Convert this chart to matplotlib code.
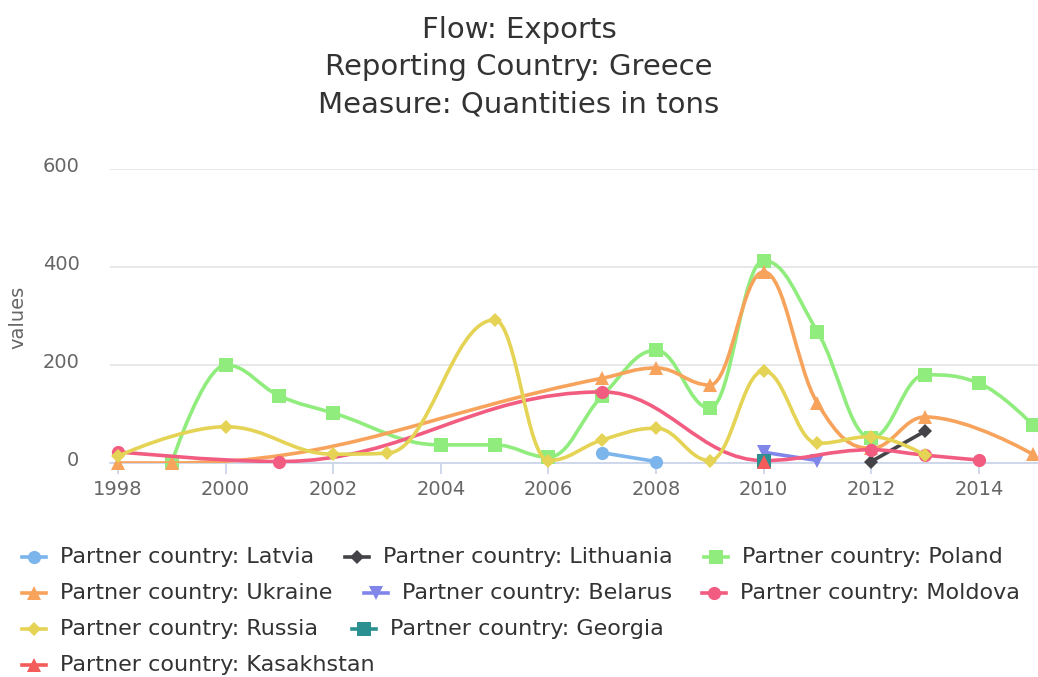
import numpy as np
import matplotlib
matplotlib.use("Agg")
import matplotlib.pyplot as plt
from matplotlib.path import Path
from matplotlib.patches import PathPatch
from matplotlib.lines import Line2D
from matplotlib.transforms import ScaledTranslation

# --- datos ---
title_lines = ["Flow: Exports", "Reporting Country: Greece", "Measure: Quantities in tons"]
y_label = "values"

latvia_years = [2007, 2008]
latvia_vals = [21, 3]
lithuania_years = [2012, 2013]
lithuania_vals = [3, 65]
poland_years = [1999, 2000, 2001, 2002, 2004, 2005, 2006, 2007, 2008, 2009, 2010, 2011, 2012, 2013, 2014, 2015]
poland_vals = [2, 200, 137, 102, 37, 37, 12, 137, 230, 112, 413, 268, 51, 180, 163, 78]
ukraine_years = [1998, 1999, 2007, 2008, 2009, 2010, 2011, 2012, 2013, 2015]
ukraine_vals = [0, 0, 173, 194, 159, 390, 122, 30, 94, 18]
belarus_years = [2010, 2011]
belarus_vals = [22, 5]
moldova_years = [1998, 2001, 2007, 2010, 2012, 2013, 2014]
moldova_vals = [23, 3, 145, 5, 27, 16, 6]
russia_years = [1998, 2000, 2002, 2003, 2005, 2006, 2007, 2008, 2009, 2010, 2011, 2012, 2013]
russia_vals = [14, 74, 18, 20, 292, 5, 47, 71, 5, 188, 40, 54, 16]
georgia_years = [2010]
georgia_vals = [5]
kazakhstan_years = [2010]
kazakhstan_vals = [3]

series = [
    ("Partner country: Latvia", latvia_years, latvia_vals, "#7cb5ec", "o", 9.5),
    ("Partner country: Lithuania", lithuania_years, lithuania_vals, "#434348", "D", 7),
    ("Partner country: Poland", poland_years, poland_vals, "#90ed7d", "s", 9.5),
    ("Partner country: Ukraine", ukraine_years, ukraine_vals, "#f7a35c", "^", 10),
    ("Partner country: Belarus", belarus_years, belarus_vals, "#8085e9", "v", 10),
    ("Partner country: Moldova", moldova_years, moldova_vals, "#f15c80", "o", 9.5),
    ("Partner country: Russia", russia_years, russia_vals, "#e4d354", "D", 7),
    ("Partner country: Georgia", georgia_years, georgia_vals, "#2b908f", "s", 9.5),
    ("Partner country: Kasakhstan", kazakhstan_years, kazakhstan_vals, "#f45b5b", "^", 10),
]


# --- spline tipo Highcharts ---
def hc_spline(xs, ys, smoothing=1.5):
    n = len(xs)
    lc = [(x, y) for x, y in zip(xs, ys)]
    rc = [(x, y) for x, y in zip(xs, ys)]
    d = smoothing + 1
    for i in range(1, n - 1):
        px, py = xs[i], ys[i]
        lx, ly = xs[i - 1], ys[i - 1]
        nx, ny = xs[i + 1], ys[i + 1]
        lcx = (smoothing * px + lx) / d
        lcy = (smoothing * py + ly) / d
        rcx = (smoothing * px + nx) / d
        rcy = (smoothing * py + ny) / d
        corr = 0
        if rcx != lcx:
            corr = (rcy - lcy) * (rcx - px) / (rcx - lcx) + py - rcy
        lcy += corr
        rcy += corr
        if lcy > ly and lcy > py:
            lcy = max(ly, py)
            rcy = 2 * py - lcy
        elif lcy < ly and lcy < py:
            lcy = min(ly, py)
            rcy = 2 * py - lcy
        if rcy > ny and rcy > py:
            rcy = max(ny, py)
            lcy = 2 * py - rcy
        elif rcy < ny and rcy < py:
            rcy = min(ny, py)
            lcy = 2 * py - rcy
        lc[i] = (lcx, lcy)
        rc[i] = (rcx, rcy)
    verts = [(xs[0], ys[0])]
    codes = [Path.MOVETO]
    for i in range(1, n):
        verts += [rc[i - 1], lc[i], (xs[i], ys[i])]
        codes += [Path.CURVE4] * 3
    return Path(verts, codes)


W, H = 1038, 677
fig = plt.figure(figsize=(W / 100, H / 100), dpi=100)
ax = fig.add_axes([110 / W, 1 - 463 / H, 928 / W, (463 - 169) / H])

for k, (name, xs, ys, color, mk, ms) in enumerate(series):
    if len(xs) > 1:
        patch = PathPatch(hc_spline(xs, ys), facecolor="none", edgecolor=color,
                          lw=2.6, zorder=3 + 2 * k, capstyle="round", joinstyle="round")
        ax.add_patch(patch)
    ax.plot(xs, ys, linestyle="none", marker=mk, markersize=ms, color=color,
            markeredgewidth=0, zorder=4 + 2 * k, clip_on=False)

ax.set_xlim(1997.85, 2015.1)
ax.set_ylim(0, 600)
ax.set_xticks(np.arange(1998, 2015, 2))
ax.set_yticks([0, 200, 400, 600])
ax.grid(axis="y", color="#e6e6e6", lw=1.3)
ax.set_axisbelow(True)
for s in ["top", "right", "left"]:
    ax.spines[s].set_visible(False)
ax.spines["bottom"].set_color("#ccd6eb")
ax.spines["bottom"].set_linewidth(1.3)
ax.spines["bottom"].set_zorder(2)
ax.tick_params(axis="x", colors="#666666", labelsize=14, length=8, width=1.3,
               color="#ccd6eb", pad=4)
ax.tick_params(axis="y", colors="#666666", labelsize=14, length=0, pad=22)
for lab in ax.get_yticklabels():
    lab.set_transform(lab.get_transform() + ScaledTranslation(0, 5 / 100, fig.dpi_scale_trans))

fig.text(18 / W, 1 - 317 / H, y_label, rotation=90, ha="center", va="center",
         fontsize=14, color="#666666")

# titulo
for i, t in enumerate(title_lines):
    fig.text(519 / W, 1 - (30 + 37 * i) / H, t, ha="center", va="center",
             fontsize=21, color="#333333")

# leyenda manual (estilo Highcharts)
legend_pos = [(60, 557), (383, 557), (742, 557),
              (60, 593), (402, 593), (740, 593),
              (60, 629), (390, 629),
              (60, 665)]
for (name, xs, ys, color, mk, ms), (tx, ty) in zip(series, legend_pos):
    yf = 1 - ty / H
    fig.add_artist(Line2D([(tx - 38) / W, (tx - 14) / W], [yf, yf], color=color,
                          lw=2.6, transform=fig.transFigure))
    fig.add_artist(Line2D([(tx - 26) / W], [yf], marker=mk, markersize=ms, color=color,
                          markeredgewidth=0, linestyle="none", transform=fig.transFigure))
    fig.text(tx / W, yf, name, ha="left", va="center", fontsize=16, color="#333333")

fig.savefig("out.png", dpi=100)
